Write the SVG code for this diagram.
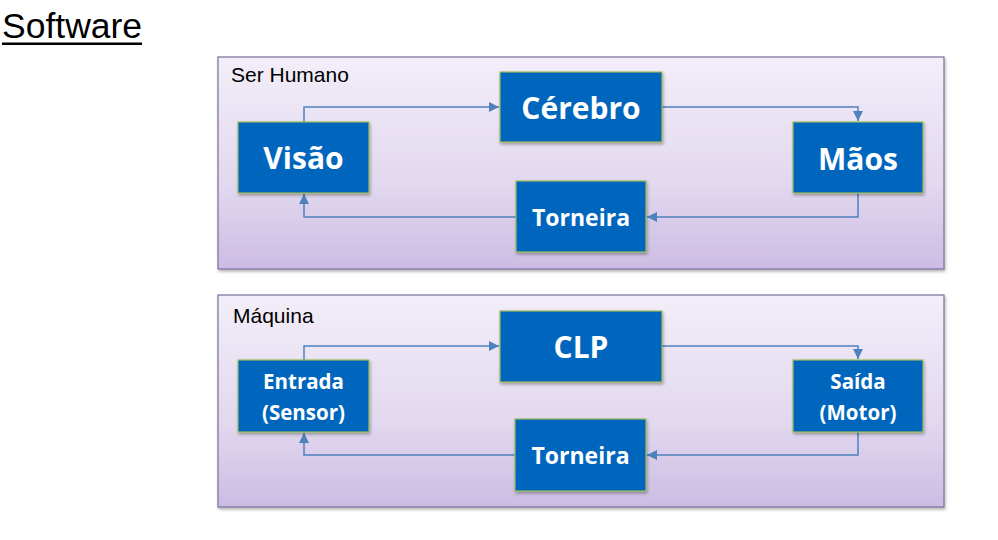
<svg xmlns="http://www.w3.org/2000/svg" width="998" height="540" viewBox="0 0 998 540">
<defs>
<linearGradient id="pg" x1="0" y1="0" x2="0" y2="1">
<stop offset="0" stop-color="#F3EEF9"/>
<stop offset="0.6" stop-color="#E2D8EF"/>
<stop offset="1" stop-color="#CCBCE3"/>
</linearGradient>
<filter id="sh" x="-5%" y="-5%" width="110%" height="115%">
<feDropShadow dx="1" dy="2" stdDeviation="1.5" flood-color="#000" flood-opacity="0.3"/>
</filter>
<marker id="ah" viewBox="0 0 10 10" refX="10" refY="5" markerWidth="10" markerHeight="10" markerUnits="userSpaceOnUse" orient="auto">
<path d="M0,0 L10,5 L0,10 z" fill="#4F81BD"/>
</marker>
<style>
.panel{fill:url(#pg);stroke:#7A6E9C;stroke-width:1.2;filter:url(#sh)}
.box{fill:#0066BD;stroke:#9BBB59;stroke-width:1.2;filter:url(#sh)}
.lbl{font-family:"Liberation Sans",Arial,sans-serif;font-size:21px;fill:#000}
.t{font-family:"Open Sans","Noto Sans",sans-serif;font-weight:bold;fill:#fff;text-anchor:middle}
.big{font-size:30px}
.mid{font-size:23px}
.sm{font-size:20.5px}
.con{fill:none;stroke:#4F81BD;stroke-width:1.5;marker-end:url(#ah)}
</style>
</defs>
<rect width="998" height="540" fill="#fff"/>
<g id="title">
<text x="2" y="38" font-family="Liberation Sans,Arial,sans-serif" font-size="35.5" fill="#000">Software</text>
<rect x="2" y="42.5" width="140" height="2.5" fill="#000"/>
</g>
<g id="panel-ser-humano">
<rect class="panel" x="218" y="57" width="726" height="212"/>
<text class="lbl" x="231" y="82">Ser Humano</text>
</g>
<g id="panel-maquina">
<rect class="panel" x="218" y="295" width="726" height="212"/>
<text class="lbl" x="233" y="323">Máquina</text>
</g>
<g id="connectors">
<path class="con" d="M304,122 V107 H499"/>
<path class="con" d="M662,107 H858 V121"/>
<path class="con" d="M858,193 V217 H647"/>
<path class="con" d="M516,217 H304 V194"/>
<path class="con" d="M304,360 V346 H499"/>
<path class="con" d="M662,346 H858 V359"/>
<path class="con" d="M858,432 V455 H647"/>
<path class="con" d="M515,455 H304 V433"/>
</g>
<g id="visao">
<rect class="box" x="238" y="122" width="131" height="71"/>
<text class="t big" x="303.5" y="169">Visão</text>
</g>
<g id="cerebro">
<rect class="box" x="500" y="72" width="162" height="70"/>
<text class="t big" x="581" y="119">Cérebro</text>
</g>
<g id="maos">
<rect class="box" x="793" y="122" width="130" height="71"/>
<text class="t big" x="858" y="170">Mãos</text>
</g>
<g id="torneira1">
<rect class="box" x="516" y="181" width="130" height="71"/>
<text class="t mid" x="581" y="226">Torneira</text>
</g>
<g id="entrada">
<rect class="box" x="238" y="360" width="131" height="72"/>
<text class="t sm" x="303.5" y="389">Entrada</text>
<text class="t sm" x="303.5" y="420">(Sensor)</text>
</g>
<g id="clp">
<rect class="box" x="500" y="311" width="162" height="71"/>
<text class="t big" x="581" y="358">CLP</text>
</g>
<g id="saida">
<rect class="box" x="793" y="360" width="130" height="72"/>
<text class="t sm" x="858" y="389">Saída</text>
<text class="t sm" x="858" y="420">(Motor)</text>
</g>
<g id="torneira2">
<rect class="box" x="515" y="419" width="131" height="72"/>
<text class="t mid" x="580.5" y="464">Torneira</text>
</g>
</svg>
